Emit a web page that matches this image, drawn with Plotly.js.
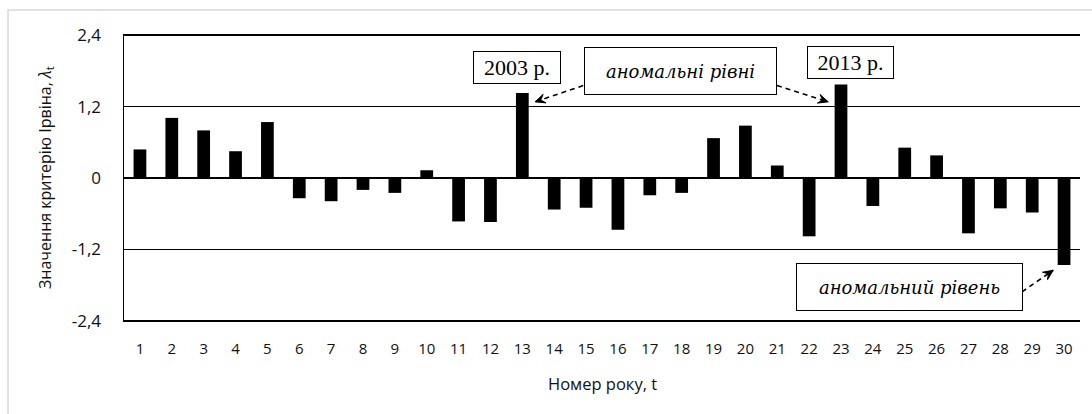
<!DOCTYPE html>
<html>
<head>
<meta charset="utf-8">
<script src="https://cdn.plot.ly/plotly-3.0.1.min.js"></script>
<style>html,body{margin:0;padding:0;background:#fff;}#chart{width:1092px;height:414px;}</style>
</head>
<body>
<div id="chart"></div>
<script>
const years = [1,2,3,4,5,6,7,8,9,10,11,12,13,14,15,16,17,18,19,20,21,22,23,24,25,26,27,28,29,30];
const lambdaValues = [0.48, 1.01, 0.80, 0.45, 0.94, -0.34, -0.39, -0.20, -0.25, 0.13,
                      -0.73, -0.74, 1.43, -0.53, -0.50, -0.87, -0.29, -0.25, 0.67, 0.88,
                      0.21, -0.98, 1.57, -0.47, 0.51, 0.38, -0.93, -0.51, -0.58, -1.46];
const yTickVals = [-2.4, -1.2, 0, 1.2, 2.4];
const yTickText = ['-2,4', '-1,2', '0', '1,2', '2,4'];
const yTitle = 'Значення критерію Ірвіна, <i>λ</i><sub>t</sub>';
const xTitle = 'Номер року, t';

const sans = 'Open Sans, Liberation Sans, sans-serif';
const serif = 'Liberation Serif, DejaVu Serif, serif';
const serifItalic = 'DejaVu Serif, serif';

// pixel scale of the plot area (used only to shape arrowheads)
const PXX = 956 / 30, PXY = 288 / 4.84;

const trace = {
  type: 'bar',
  x: years,
  y: lambdaValues,
  marker: {color: '#000000', line: {width: 0}},
  width: 0.4,
  hoverinfo: 'x+y'
};

function box(text, x, y, w, h, italic) {
  return {
    x: x, y: y, xref: 'x', yref: 'y', text: text, showarrow: false,
    xanchor: 'center', yanchor: 'middle',
    font: italic ? {family: serifItalic, size: 18, color: '#000', style: 'italic'}
                 : {family: serif, size: 22, color: '#000'},
    bordercolor: '#000', borderwidth: 1, borderpad: 1, bgcolor: '#fff',
    width: w, height: h
  };
}
function dashLine(x0, y0, x1, y1) {
  return {type: 'line', xref: 'x', yref: 'y', x0: x0, y0: y0, x1: x1, y1: y1,
          line: {color: '#000', width: 1.6, dash: '5px,4px'}};
}
// arrowhead triangle at tip (x1,y1) pointing away from (x0,y0)
function arrowHead(x0, y0, x1, y1) {
  const dxp = (x1 - x0) * PXX, dyp = -(y1 - y0) * PXY;
  const L = Math.hypot(dxp, dyp), ux = dxp / L, uy = dyp / L;
  const len = 10, half = 4.5;
  const bx = -ux * len, by = -uy * len;
  const p1 = [bx - uy * half, by + ux * half], p2 = [bx + uy * half, by - ux * half];
  const toData = p => [x1 + p[0] / PXX, y1 - p[1] / PXY];
  const a = toData(p1), b = toData(p2), n = toData([bx * 0.6, by * 0.6]);
  return {type: 'path', xref: 'x', yref: 'y',
          path: `M${x1},${y1} L${a[0]},${a[1]} L${n[0]},${n[1]} L${b[0]},${b[1]} Z`,
          fillcolor: '#000', line: {color: '#000', width: 1}};
}

const arrows = [
  [14.91, 1.554, 13.40, 1.28],
  [20.99, 1.554, 22.60, 1.28],
  [28.68, -1.913, 29.66, -1.55]
];

const shapes = [
  {type: 'rect', xref: 'paper', yref: 'paper', x0: -0.1213, x1: 1.2, y0: -0.6, y1: 1.0833,
   line: {color: '#d9d9d9', width: 1.5}, fillcolor: 'rgba(0,0,0,0)', layer: 'below'}
];
arrows.forEach(a => { shapes.push(dashLine(a[0], a[1], a[2], a[3])); shapes.push(arrowHead(a[0], a[1], a[2], a[3])); });

const layout = {
  width: 1092, height: 414,
  margin: {l: 124, r: 12, t: 34, b: 92},
  paper_bgcolor: '#fff', plot_bgcolor: '#fff',
  showlegend: false,
  bargap: 0.6,
  xaxis: {
    range: [0.5, 30.5], tickmode: 'array', tickvals: years, ticktext: years.map(String),
    showgrid: false, zeroline: false, showline: false, ticks: '',
    ticklabelstandoff: 16,
    tickfont: {family: sans, size: 15, color: '#111'}
  },
  yaxis: {
    range: [-2.42, 2.42], tickmode: 'array', tickvals: yTickVals, ticktext: yTickText,
    showgrid: true, gridcolor: '#000', gridwidth: 1.5,
    zeroline: true, zerolinecolor: '#000', zerolinewidth: 1.5,
    showline: true, linecolor: '#000', linewidth: 1.5, ticks: '',
    ticklabelstandoff: 18,
    tickfont: {family: sans, size: 17, color: '#111'}
  },
  shapes: shapes,
  annotations: [
    box('2003 р.', 12.835, 1.859, 84, 29, false),
    box('2013 р.', 23.30, 1.943, 83, 29, false),
    box('аномальні рівні', 17.95, 1.792, 189, 44, true),
    box('аномальний рівень', 25.14, -1.824, 223, 44, true),
    {xref: 'paper', yref: 'paper', x: -0.0826, y: 0.5, text: yTitle, showarrow: false,
     textangle: -90, xanchor: 'center', yanchor: 'middle',
     font: {family: sans, size: 16, color: '#111'}},
    {xref: 'paper', yref: 'paper', x: 0.5, y: -0.215, text: xTitle, showarrow: false,
     xanchor: 'center', yanchor: 'middle',
     font: {family: sans, size: 16.5, color: '#111'}}
  ]
};

Plotly.newPlot('chart', [trace], layout, {displayModeBar: false, staticPlot: true});
</script>
</body>
</html>
